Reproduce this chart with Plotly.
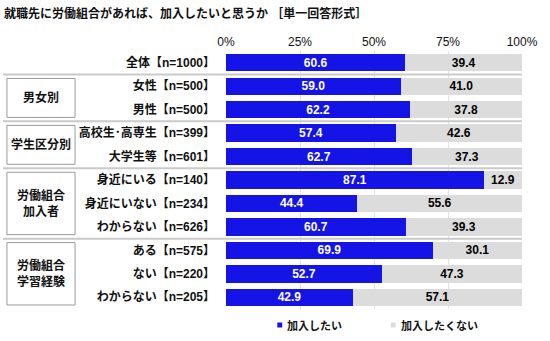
import plotly.graph_objects as go

# Survey: would you join a labour union at your future workplace? (single answer)
categories = [
    "全体【n=1000】",
    "女性【n=500】",
    "男性【n=500】",
    "高校生･高専生【n=399】",
    "大学生等【n=601】",
    "身近にいる【n=140】",
    "身近にいない【n=234】",
    "わからない【n=626】",
    "ある【n=575】",
    "ない【n=220】",
    "わからない【n=205】",
]
want = [60.6, 59.0, 62.2, 57.4, 62.7, 87.1, 44.4, 60.7, 69.9, 52.7, 42.9]
not_want = [39.4, 41.0, 37.8, 42.6, 37.3, 12.9, 55.6, 39.3, 30.1, 47.3, 57.1]

# Row groups (label, number of rows); the first block has no group box
group_names = ["", "男女別", "学生区分別", "労働組合<br>加入者", "労働組合<br>学習経験"]
group_sizes = [1, 2, 2, 3, 3]

tick_vals = [0, 25, 50, 75, 100]
tick_text = ["0%", "25%", "50%", "75%", "100%"]

W, H = 550, 341
ML, MR, MT, MB = 226, 24, 51, 32
plot_w = W - ML - MR
plot_h = H - MT - MB

FONT = "Liberation Sans, Arial, Noto Sans CJK JP, sans-serif"
BLUE = "#1414E6"
GREY = "#DCDCDC"
series = [("加入したい", want, BLUE, "white"), ("加入したくない", not_want, GREY, "black")]

fig = go.Figure()
for name, vals, color, txtcolor in series:
    fig.add_trace(go.Bar(
        y=categories, x=vals, orientation="h", name=name, showlegend=False,
        marker=dict(color=color, line=dict(width=0)),
        text=vals, texttemplate="%{x:.1f}", textposition="inside",
        insidetextanchor="middle", constraintext="none",
        textfont=dict(color=txtcolor, size=12, family=FONT, weight="bold"),
    ))

def px_x(px):
    return (px - ML) / plot_w

def px_y(py):
    return (H - MB - py) / plot_h

shapes = []
annotations = []
start = 0
for name, size in zip(group_names, group_sizes):
    end = start + size
    if start > 0:
        # separator line across labels and bars
        shapes.append(dict(
            type="line", xref="paper", yref="y",
            x0=px_x(0), x1=1.0, y0=start - 0.5, y1=start - 0.5,
            line=dict(color="#CACACA", width=2), layer="above",
        ))
    if name:
        inset = 0.17
        shapes.append(dict(
            type="rect", xref="paper", yref="y",
            x0=px_x(4), x1=px_x(73),
            y0=start - 0.5 + inset, y1=end - 0.5 - inset,
            line=dict(color="#9A9A9A", width=1), fillcolor="white",
        ))
        annotations.append(dict(
            xref="paper", yref="y", x=px_x(38.5), y=(start + end - 1) / 2,
            xanchor="center", yanchor="middle",
            text=name, showarrow=False, align="center",
            font=dict(size=12, family=FONT, color="#111", weight="bold"),
        ))
    start = end

# legend row below the bars: small square swatch followed by its label
legend_left = [278, 393]
legend_y = 325
for (name, _, color, _), lx in zip(series, legend_left):
    shapes.append(dict(
        type="rect", xref="paper", yref="paper",
        x0=px_x(lx), x1=px_x(lx + 5),
        y0=px_y(legend_y + 2.5), y1=px_y(legend_y - 2.5),
        line=dict(width=0), fillcolor=color,
    ))
    annotations.append(dict(
        xref="paper", yref="paper", x=px_x(lx + 8), y=px_y(legend_y),
        xanchor="left", yanchor="middle", text=name, showarrow=False,
        font=dict(size=11, family=FONT, color="#111", weight="bold"),
    ))

fig.update_layout(
    width=W, height=H,
    margin=dict(l=ML, r=MR, t=MT, b=MB),
    barmode="stack", bargap=0.26,
    uniformtext=dict(minsize=12, mode="show"),
    showlegend=False,
    plot_bgcolor="white", paper_bgcolor="white",
    font=dict(family=FONT, color="#111"),
    title=dict(
        text="就職先に労働組合があれば、加入したいと思うか ［単一回答形式］",
        x=4 / W, xref="container", xanchor="left",
        y=1 - 14 / H, yref="container", yanchor="middle",
        font=dict(size=12, family=FONT, color="#111", weight="bold"),
    ),
    xaxis=dict(
        range=[0, 100], side="top", tickvals=tick_vals, ticktext=tick_text,
        showgrid=True, gridcolor="#E4E4E4", gridwidth=1, zeroline=False,
        showline=False, ticks="", ticklabelstandoff=2,
        tickfont=dict(size=12, family=FONT, color="#111"),
        fixedrange=True,
    ),
    yaxis=dict(
        categoryorder="array", categoryarray=categories, autorange="reversed",
        showgrid=False, ticks="", ticklabelstandoff=10,
        tickfont=dict(size=12, family=FONT, color="#111", weight="bold"),
        fixedrange=True,
    ),
    shapes=shapes,
    annotations=annotations,
)

fig.write_html("out.html")
